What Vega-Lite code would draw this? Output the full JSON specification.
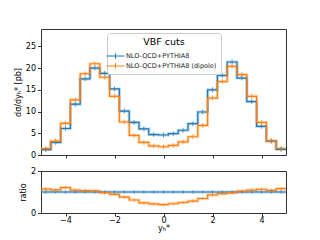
{
  "$schema": "https://vega.github.io/schema/vega-lite/v6.json",
  "padding": {"left": 13, "top": 28, "right": 0, "bottom": 0},
  "background": "white",
  "config": {
    "font": "DejaVu Sans",
    "view": {"stroke": "#333", "strokeWidth": 1},
    "axis": {"domain": false, "grid": false, "tickColor": "#333", "tickSize": 3.5, "labelFontSize": 8, "labelColor": "#000", "titleFontSize": 8, "titleFontWeight": "normal", "titleColor": "#000", "labelPadding": 2, "titlePadding": 3},
    "axisX": {"labelPadding": 0, "titlePadding": 0, "tickSize": 3},
    "concat": {"spacing": 6}
  },
  "datasets": {
    "main": [
      {"x": -5.0, "c": -4.8, "y": 1.25, "s": "NLO-QCD+PYTHIA8"},
      {"x": -4.6, "c": -4.4, "y": 2.9, "s": "NLO-QCD+PYTHIA8"},
      {"x": -4.2, "c": -4.0, "y": 6.1, "s": "NLO-QCD+PYTHIA8"},
      {"x": -3.8, "c": -3.6, "y": 11.7, "s": "NLO-QCD+PYTHIA8"},
      {"x": -3.4, "c": -3.2, "y": 17.5, "s": "NLO-QCD+PYTHIA8"},
      {"x": -3.0, "c": -2.8, "y": 20.0, "s": "NLO-QCD+PYTHIA8"},
      {"x": -2.6, "c": -2.4, "y": 18.8, "s": "NLO-QCD+PYTHIA8"},
      {"x": -2.2, "c": -2.0, "y": 15.2, "s": "NLO-QCD+PYTHIA8"},
      {"x": -1.8, "c": -1.6, "y": 10.1, "s": "NLO-QCD+PYTHIA8"},
      {"x": -1.4, "c": -1.2, "y": 7.5, "s": "NLO-QCD+PYTHIA8"},
      {"x": -1.0, "c": -0.8, "y": 6.0, "s": "NLO-QCD+PYTHIA8"},
      {"x": -0.6, "c": -0.4, "y": 4.7, "s": "NLO-QCD+PYTHIA8"},
      {"x": -0.2, "c": 0.0, "y": 4.6, "s": "NLO-QCD+PYTHIA8"},
      {"x": 0.2, "c": 0.4, "y": 4.9, "s": "NLO-QCD+PYTHIA8"},
      {"x": 0.6, "c": 0.8, "y": 5.7, "s": "NLO-QCD+PYTHIA8"},
      {"x": 1.0, "c": 1.2, "y": 7.2, "s": "NLO-QCD+PYTHIA8"},
      {"x": 1.4, "c": 1.6, "y": 9.9, "s": "NLO-QCD+PYTHIA8"},
      {"x": 1.8, "c": 2.0, "y": 15.0, "s": "NLO-QCD+PYTHIA8"},
      {"x": 2.2, "c": 2.4, "y": 18.3, "s": "NLO-QCD+PYTHIA8"},
      {"x": 2.6, "c": 2.8, "y": 21.4, "s": "NLO-QCD+PYTHIA8"},
      {"x": 3.0, "c": 3.2, "y": 17.7, "s": "NLO-QCD+PYTHIA8"},
      {"x": 3.4, "c": 3.6, "y": 12.3, "s": "NLO-QCD+PYTHIA8"},
      {"x": 3.8, "c": 4.0, "y": 6.6, "s": "NLO-QCD+PYTHIA8"},
      {"x": 4.2, "c": 4.4, "y": 3.2, "s": "NLO-QCD+PYTHIA8"},
      {"x": 4.6, "c": 4.8, "y": 1.3, "s": "NLO-QCD+PYTHIA8"},
      {"x": 5.0, "c": null, "y": 1.3, "s": "NLO-QCD+PYTHIA8"},
      {"x": -5.0, "c": -4.8, "y": 1.45, "s": "NLO-QCD+PYTHIA8 (dipole)"},
      {"x": -4.6, "c": -4.4, "y": 3.2, "s": "NLO-QCD+PYTHIA8 (dipole)"},
      {"x": -4.2, "c": -4.0, "y": 7.3, "s": "NLO-QCD+PYTHIA8 (dipole)"},
      {"x": -3.8, "c": -3.6, "y": 12.7, "s": "NLO-QCD+PYTHIA8 (dipole)"},
      {"x": -3.4, "c": -3.2, "y": 18.7, "s": "NLO-QCD+PYTHIA8 (dipole)"},
      {"x": -3.0, "c": -2.8, "y": 21.0, "s": "NLO-QCD+PYTHIA8 (dipole)"},
      {"x": -2.6, "c": -2.4, "y": 17.9, "s": "NLO-QCD+PYTHIA8 (dipole)"},
      {"x": -2.2, "c": -2.0, "y": 13.5, "s": "NLO-QCD+PYTHIA8 (dipole)"},
      {"x": -1.8, "c": -1.6, "y": 7.6, "s": "NLO-QCD+PYTHIA8 (dipole)"},
      {"x": -1.4, "c": -1.2, "y": 4.5, "s": "NLO-QCD+PYTHIA8 (dipole)"},
      {"x": -1.0, "c": -0.8, "y": 2.9, "s": "NLO-QCD+PYTHIA8 (dipole)"},
      {"x": -0.6, "c": -0.4, "y": 2.1, "s": "NLO-QCD+PYTHIA8 (dipole)"},
      {"x": -0.2, "c": 0.0, "y": 1.9, "s": "NLO-QCD+PYTHIA8 (dipole)"},
      {"x": 0.2, "c": 0.4, "y": 2.2, "s": "NLO-QCD+PYTHIA8 (dipole)"},
      {"x": 0.6, "c": 0.8, "y": 3.0, "s": "NLO-QCD+PYTHIA8 (dipole)"},
      {"x": 1.0, "c": 1.2, "y": 4.2, "s": "NLO-QCD+PYTHIA8 (dipole)"},
      {"x": 1.4, "c": 1.6, "y": 6.8, "s": "NLO-QCD+PYTHIA8 (dipole)"},
      {"x": 1.8, "c": 2.0, "y": 13.1, "s": "NLO-QCD+PYTHIA8 (dipole)"},
      {"x": 2.2, "c": 2.4, "y": 16.9, "s": "NLO-QCD+PYTHIA8 (dipole)"},
      {"x": 2.6, "c": 2.8, "y": 20.4, "s": "NLO-QCD+PYTHIA8 (dipole)"},
      {"x": 3.0, "c": 3.2, "y": 18.5, "s": "NLO-QCD+PYTHIA8 (dipole)"},
      {"x": 3.4, "c": 3.6, "y": 13.5, "s": "NLO-QCD+PYTHIA8 (dipole)"},
      {"x": 3.8, "c": 4.0, "y": 7.5, "s": "NLO-QCD+PYTHIA8 (dipole)"},
      {"x": 4.2, "c": 4.4, "y": 3.25, "s": "NLO-QCD+PYTHIA8 (dipole)"},
      {"x": 4.6, "c": 4.8, "y": 1.5, "s": "NLO-QCD+PYTHIA8 (dipole)"},
      {"x": 5.0, "c": null, "y": 1.5, "s": "NLO-QCD+PYTHIA8 (dipole)"}
    ],
    "ratio": [
      {"x": -5.0, "c": -4.8, "y": 1, "s": "NLO-QCD+PYTHIA8"},
      {"x": -4.6, "c": -4.4, "y": 1, "s": "NLO-QCD+PYTHIA8"},
      {"x": -4.2, "c": -4.0, "y": 1, "s": "NLO-QCD+PYTHIA8"},
      {"x": -3.8, "c": -3.6, "y": 1, "s": "NLO-QCD+PYTHIA8"},
      {"x": -3.4, "c": -3.2, "y": 1, "s": "NLO-QCD+PYTHIA8"},
      {"x": -3.0, "c": -2.8, "y": 1, "s": "NLO-QCD+PYTHIA8"},
      {"x": -2.6, "c": -2.4, "y": 1, "s": "NLO-QCD+PYTHIA8"},
      {"x": -2.2, "c": -2.0, "y": 1, "s": "NLO-QCD+PYTHIA8"},
      {"x": -1.8, "c": -1.6, "y": 1, "s": "NLO-QCD+PYTHIA8"},
      {"x": -1.4, "c": -1.2, "y": 1, "s": "NLO-QCD+PYTHIA8"},
      {"x": -1.0, "c": -0.8, "y": 1, "s": "NLO-QCD+PYTHIA8"},
      {"x": -0.6, "c": -0.4, "y": 1, "s": "NLO-QCD+PYTHIA8"},
      {"x": -0.2, "c": 0.0, "y": 1, "s": "NLO-QCD+PYTHIA8"},
      {"x": 0.2, "c": 0.4, "y": 1, "s": "NLO-QCD+PYTHIA8"},
      {"x": 0.6, "c": 0.8, "y": 1, "s": "NLO-QCD+PYTHIA8"},
      {"x": 1.0, "c": 1.2, "y": 1, "s": "NLO-QCD+PYTHIA8"},
      {"x": 1.4, "c": 1.6, "y": 1, "s": "NLO-QCD+PYTHIA8"},
      {"x": 1.8, "c": 2.0, "y": 1, "s": "NLO-QCD+PYTHIA8"},
      {"x": 2.2, "c": 2.4, "y": 1, "s": "NLO-QCD+PYTHIA8"},
      {"x": 2.6, "c": 2.8, "y": 1, "s": "NLO-QCD+PYTHIA8"},
      {"x": 3.0, "c": 3.2, "y": 1, "s": "NLO-QCD+PYTHIA8"},
      {"x": 3.4, "c": 3.6, "y": 1, "s": "NLO-QCD+PYTHIA8"},
      {"x": 3.8, "c": 4.0, "y": 1, "s": "NLO-QCD+PYTHIA8"},
      {"x": 4.2, "c": 4.4, "y": 1, "s": "NLO-QCD+PYTHIA8"},
      {"x": 4.6, "c": 4.8, "y": 1, "s": "NLO-QCD+PYTHIA8"},
      {"x": 5.0, "c": null, "y": 1, "s": "NLO-QCD+PYTHIA8"},
      {"x": -5.0, "c": -4.8, "y": 1.14, "s": "NLO-QCD+PYTHIA8 (dipole)"},
      {"x": -4.6, "c": -4.4, "y": 1.10, "s": "NLO-QCD+PYTHIA8 (dipole)"},
      {"x": -4.2, "c": -4.0, "y": 1.21, "s": "NLO-QCD+PYTHIA8 (dipole)"},
      {"x": -3.8, "c": -3.6, "y": 1.09, "s": "NLO-QCD+PYTHIA8 (dipole)"},
      {"x": -3.4, "c": -3.2, "y": 1.07, "s": "NLO-QCD+PYTHIA8 (dipole)"},
      {"x": -3.0, "c": -2.8, "y": 1.05, "s": "NLO-QCD+PYTHIA8 (dipole)"},
      {"x": -2.6, "c": -2.4, "y": 0.97, "s": "NLO-QCD+PYTHIA8 (dipole)"},
      {"x": -2.2, "c": -2.0, "y": 0.89, "s": "NLO-QCD+PYTHIA8 (dipole)"},
      {"x": -1.8, "c": -1.6, "y": 0.76, "s": "NLO-QCD+PYTHIA8 (dipole)"},
      {"x": -1.4, "c": -1.2, "y": 0.62, "s": "NLO-QCD+PYTHIA8 (dipole)"},
      {"x": -1.0, "c": -0.8, "y": 0.48, "s": "NLO-QCD+PYTHIA8 (dipole)"},
      {"x": -0.6, "c": -0.4, "y": 0.43, "s": "NLO-QCD+PYTHIA8 (dipole)"},
      {"x": -0.2, "c": 0.0, "y": 0.40, "s": "NLO-QCD+PYTHIA8 (dipole)"},
      {"x": 0.2, "c": 0.4, "y": 0.44, "s": "NLO-QCD+PYTHIA8 (dipole)"},
      {"x": 0.6, "c": 0.8, "y": 0.50, "s": "NLO-QCD+PYTHIA8 (dipole)"},
      {"x": 1.0, "c": 1.2, "y": 0.57, "s": "NLO-QCD+PYTHIA8 (dipole)"},
      {"x": 1.4, "c": 1.6, "y": 0.69, "s": "NLO-QCD+PYTHIA8 (dipole)"},
      {"x": 1.8, "c": 2.0, "y": 0.86, "s": "NLO-QCD+PYTHIA8 (dipole)"},
      {"x": 2.2, "c": 2.4, "y": 0.92, "s": "NLO-QCD+PYTHIA8 (dipole)"},
      {"x": 2.6, "c": 2.8, "y": 0.96, "s": "NLO-QCD+PYTHIA8 (dipole)"},
      {"x": 3.0, "c": 3.2, "y": 1.04, "s": "NLO-QCD+PYTHIA8 (dipole)"},
      {"x": 3.4, "c": 3.6, "y": 1.09, "s": "NLO-QCD+PYTHIA8 (dipole)"},
      {"x": 3.8, "c": 4.0, "y": 1.13, "s": "NLO-QCD+PYTHIA8 (dipole)"},
      {"x": 4.2, "c": 4.4, "y": 1.08, "s": "NLO-QCD+PYTHIA8 (dipole)"},
      {"x": 4.6, "c": 4.8, "y": 1.16, "s": "NLO-QCD+PYTHIA8 (dipole)"},
      {"x": 5.0, "c": null, "y": 1.16, "s": "NLO-QCD+PYTHIA8 (dipole)"}
    ]
  },
  "vconcat": [
    {
      "width": 245,
      "height": 126,
      "data": {"name": "main"},
      "encoding": {
        "y": {"field": "y", "type": "quantitative", "scale": {"domain": [0, 29], "nice": false}, "axis": {"values": [0, 5, 10, 15, 20, 25], "title": "dσ/dyₕ* [pb]"}},
        "color": {"field": "s", "type": "nominal", "scale": {"domain": ["NLO-QCD+PYTHIA8", "NLO-QCD+PYTHIA8 (dipole)"], "range": ["#1f77b4", "#ff7f0e"]}, "legend": {"orient": "none", "legendX": 66, "legendY": 4, "title": "VBF cuts", "titleFontSize": 9.5, "titleFontWeight": "normal", "titleAnchor": "middle", "titleColor": "#000", "labelFontSize": 6.5, "labelColor": "#222", "labelFontWeight": "normal", "symbolType": "M-2,-0.12H2V0.12H-2ZM-0.12,-0.6H0.12V0.6H-0.12Z", "symbolSize": 81, "symbolStrokeWidth": 0, "symbolOpacity": 1, "fillColor": "white", "strokeColor": "#ccc", "cornerRadius": 3, "padding": 4, "rowPadding": 2, "labelOffset": 6}}
      },
      "layer": [
        {
          "mark": {"type": "line", "interpolate": "step-after", "strokeWidth": 3, "opacity": 0.3},
          "encoding": {
            "x": {"field": "x", "type": "quantitative", "scale": {"domain": [-5, 5], "nice": false}, "axis": {"values": [-4, -2, 0, 2, 4], "labels": false, "title": null}}
          }
        },
        {
          "mark": {"type": "line", "interpolate": "step-after", "strokeWidth": 1.2},
          "encoding": {"x": {"field": "x", "type": "quantitative"}}
        },
        {
          "mark": {"type": "tick", "orient": "vertical", "size": 5, "thickness": 1},
          "encoding": {"x": {"field": "c", "type": "quantitative"}}
        }
      ]
    },
    {
      "width": 245,
      "height": 42,
      "data": {"name": "ratio"},
      "encoding": {
        "y": {"field": "y", "type": "quantitative", "scale": {"domain": [0, 2], "nice": false}, "axis": {"values": [0, 1, 2], "format": "d", "title": "ratio"}},
        "color": {"field": "s", "type": "nominal", "scale": {"domain": ["NLO-QCD+PYTHIA8", "NLO-QCD+PYTHIA8 (dipole)"], "range": ["#1f77b4", "#ff7f0e"]}, "legend": null}
      },
      "layer": [
        {
          "mark": {"type": "line", "interpolate": "step-after", "strokeWidth": 3, "opacity": 0.3},
          "encoding": {
            "x": {"field": "x", "type": "quantitative", "scale": {"domain": [-5, 5], "nice": false}, "axis": {"values": [-4, -2, 0, 2, 4], "title": "yₕ*"}}
          }
        },
        {
          "mark": {"type": "line", "interpolate": "step-after", "strokeWidth": 1.2},
          "encoding": {"x": {"field": "x", "type": "quantitative"}}
        },
        {
          "mark": {"type": "tick", "orient": "vertical", "size": 4, "thickness": 1, "opacity": 0.5},
          "encoding": {"x": {"field": "c", "type": "quantitative"}}
        }
      ]
    }
  ]
}
